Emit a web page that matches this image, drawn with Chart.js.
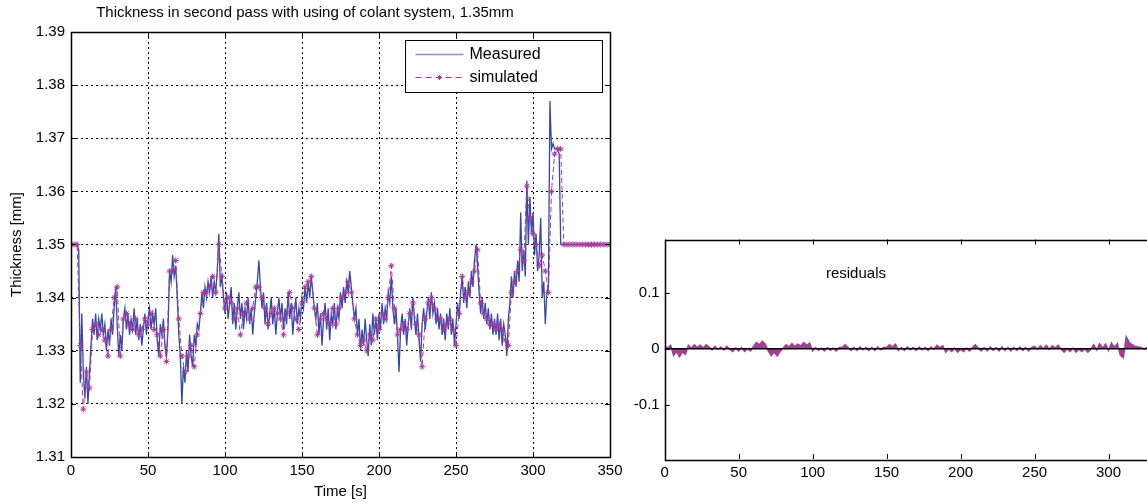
<!DOCTYPE HTML>
<html>

<head>
    <meta charset="UTF-8">
    <title>Thickness second pass</title>
    <script src="https://cdn.jsdelivr.net/npm/chart.js"></script>
    <style>
        html, body { margin: 0; padding: 0; background: #fff; overflow: hidden; width: 1147px; height: 503px; }
        canvas { position: absolute; top: 0; }
        #thick { left: 0; }
        #resid { left: 600px; }
    </style>
</head>

<body>
    <canvas id="thick" width="640" height="503"></canvas>
    <canvas id="resid" width="600" height="503"></canvas>
    <script>
        // sample spacing in seconds
        var measuredStep = 1;
        var simulatedStep = 2;
        var residualStep = 2;

        var xTicks = [0, 50, 100, 150, 200, 250, 300, 350];
        var yTicks = [1.31, 1.32, 1.33, 1.34, 1.35, 1.36, 1.37, 1.38, 1.39];
        var residTicks = [-0.1, 0, 0.1];

        // measured thickness [mm], one value per second from t = 0
        var measured = [
            1.350, 1.350, 1.350, 1.350, 1.350, 1.349, 1.324, 1.337, 1.326, 1.321,
            1.327, 1.320, 1.326, 1.331, 1.336, 1.333, 1.337, 1.332, 1.336, 1.334,
            1.337, 1.333, 1.335, 1.330, 1.334, 1.331, 1.336, 1.333, 1.338, 1.342,
            1.335, 1.329, 1.333, 1.330, 1.336, 1.338, 1.334, 1.337, 1.333, 1.336,
            1.334, 1.338, 1.333, 1.336, 1.332, 1.335, 1.331, 1.334, 1.337, 1.333,
            1.336, 1.338, 1.334, 1.337, 1.335, 1.338, 1.332, 1.329, 1.335, 1.333,
            1.336, 1.331, 1.329, 1.334, 1.345, 1.343, 1.348, 1.344, 1.346, 1.340,
            1.333, 1.329, 1.320, 1.327, 1.324, 1.330, 1.326, 1.333, 1.329, 1.327,
            1.333, 1.331, 1.335, 1.334, 1.337, 1.341, 1.338, 1.342, 1.340, 1.343,
            1.341, 1.344, 1.340, 1.343, 1.341, 1.345, 1.352, 1.342, 1.344, 1.340,
            1.337, 1.341, 1.336, 1.339, 1.342, 1.335, 1.339, 1.334, 1.338, 1.341,
            1.336, 1.339, 1.334, 1.338, 1.336, 1.340, 1.335, 1.338, 1.333, 1.337,
            1.340, 1.343, 1.347, 1.342, 1.338, 1.341, 1.335, 1.339, 1.334, 1.337,
            1.340, 1.335, 1.338, 1.333, 1.337, 1.340, 1.336, 1.339, 1.334, 1.338,
            1.335, 1.341, 1.336, 1.339, 1.333, 1.337, 1.340, 1.335, 1.338, 1.336,
            1.340, 1.338, 1.342, 1.339, 1.343, 1.340, 1.344, 1.341, 1.338, 1.336,
            1.339, 1.333, 1.337, 1.331, 1.336, 1.339, 1.334, 1.338, 1.332, 1.337,
            1.335, 1.339, 1.334, 1.338, 1.336, 1.341, 1.338, 1.342, 1.339, 1.343,
            1.341, 1.345, 1.342, 1.339, 1.336, 1.338, 1.333, 1.336, 1.330, 1.334,
            1.331, 1.336, 1.332, 1.329, 1.335, 1.331, 1.337, 1.333, 1.336, 1.332,
            1.337, 1.334, 1.339, 1.335, 1.338, 1.336, 1.341, 1.339, 1.344, 1.338,
            1.335, 1.338, 1.333, 1.326, 1.334, 1.337, 1.333, 1.336, 1.331, 1.335,
            1.338, 1.334, 1.340, 1.336, 1.333, 1.337, 1.332, 1.328, 1.335, 1.338,
            1.334, 1.337, 1.340, 1.336, 1.341, 1.337, 1.339, 1.335, 1.338, 1.334,
            1.337, 1.333, 1.336, 1.332, 1.337, 1.334, 1.338, 1.333, 1.336, 1.331,
            1.335, 1.339, 1.336, 1.341, 1.344, 1.339, 1.342, 1.338, 1.343, 1.340,
            1.345, 1.342, 1.347, 1.350, 1.346, 1.341, 1.337, 1.340, 1.336, 1.339,
            1.335, 1.338, 1.334, 1.337, 1.333, 1.336, 1.333, 1.337, 1.332, 1.336,
            1.331, 1.335, 1.333, 1.329, 1.336, 1.339, 1.344, 1.340, 1.345, 1.342,
            1.347, 1.343, 1.356, 1.345, 1.349, 1.344, 1.362, 1.350, 1.359, 1.352,
            1.356, 1.348, 1.352, 1.345, 1.348, 1.355, 1.340, 1.343, 1.335, 1.341,
            1.342, 1.377, 1.368, 1.369, 1.368, 1.368, 1.368, 1.367, 1.350, 1.350,
            1.350, 1.350, 1.350, 1.350, 1.350, 1.350, 1.350, 1.350, 1.350, 1.350,
            1.350, 1.350, 1.350, 1.350, 1.350, 1.350, 1.350, 1.350, 1.350, 1.350,
            1.350, 1.350, 1.350, 1.350, 1.350, 1.350, 1.350, 1.350, 1.350, 1.350,
            1.350
        ];

        // simulated thickness [mm], every 2 s from t = 0
        var simulated = [
            1.350, 1.350, 1.350, 1.331, 1.319, 1.326, 1.323, 1.334, 1.335, 1.333,
            1.334, 1.332, 1.329, 1.334, 1.340, 1.342, 1.329, 1.336, 1.337, 1.335,
            1.334, 1.336, 1.333, 1.334, 1.336, 1.335, 1.337, 1.334, 1.333, 1.329,
            1.334, 1.328, 1.345, 1.345, 1.347, 1.336, 1.329, 1.326, 1.329, 1.331,
            1.327, 1.333, 1.337, 1.341, 1.341, 1.342, 1.344, 1.341, 1.350, 1.344,
            1.338, 1.340, 1.339, 1.336, 1.338, 1.333, 1.337, 1.339, 1.336, 1.338,
            1.342, 1.342, 1.340, 1.338, 1.335, 1.337, 1.338, 1.337, 1.336, 1.333,
            1.337, 1.341, 1.338, 1.336, 1.334, 1.339, 1.342, 1.343, 1.344, 1.338,
            1.333, 1.336, 1.337, 1.336, 1.335, 1.338, 1.335, 1.338, 1.340, 1.341,
            1.343, 1.341, 1.336, 1.333, 1.331, 1.332, 1.330, 1.333, 1.332, 1.336,
            1.334, 1.337, 1.336, 1.340, 1.346, 1.338, 1.333, 1.334, 1.335, 1.334,
            1.337, 1.339, 1.335, 1.333, 1.327, 1.336, 1.339, 1.340, 1.338, 1.336,
            1.336, 1.334, 1.335, 1.336, 1.334, 1.331, 1.337, 1.344, 1.340, 1.341,
            1.343, 1.345, 1.349, 1.339, 1.337, 1.336, 1.335, 1.335, 1.334, 1.335,
            1.334, 1.332, 1.331, 1.341, 1.343, 1.345, 1.349, 1.347, 1.361, 1.355,
            1.352, 1.350, 1.346, 1.348, 1.345, 1.341, 1.360, 1.367, 1.368, 1.368,
            1.350, 1.350, 1.350, 1.350, 1.350, 1.350, 1.350, 1.350, 1.350, 1.350,
            1.350, 1.350, 1.350, 1.350, 1.350, 1.350
        ];

        // residuals, every 2 s from t = 0
        var residuals = [
            0.004, 0.001, 0.006,
            -0.012, -0.005, -0.014, -0.006, -0.010,
            0.006, 0.001, 0.007, 0.002, 0.006, 0.001, 0.007, 0.003,
            -0.002, 0.004, -0.001, 0.003, -0.002, 0.004, -0.001,
            -0.005, 0.001, -0.004, 0.002, -0.005, 0.000, -0.004,
            0.004, 0.011, 0.007, 0.013, 0.008,
            -0.004, -0.012, -0.006, -0.013, -0.005,
            0.001, 0.007, 0.003, 0.009, 0.004, 0.008, 0.005, 0.011, 0.006, 0.010,
            -0.004, 0.002, -0.003, 0.001, -0.004, 0.002, -0.003, 0.001, -0.004, 0.002,
            0.002, 0.007, 0.002,
            -0.003, 0.002, -0.003, 0.003, -0.002, 0.002, -0.003, 0.002, -0.003, 0.003, -0.002, 0.002,
            0.002, 0.007, 0.003, 0.008,
            -0.003, 0.002, -0.003, 0.003, -0.002, 0.002, -0.003, 0.003, -0.002, 0.002, -0.003, 0.003, -0.001,
            0.006, 0.002, 0.005,
            -0.006, 0.000, -0.005, 0.001, -0.006, -0.001, -0.005, 0.001, -0.004, 0.002,
            0.007, 0.001,
            -0.004, 0.002, -0.004, 0.003, -0.003, 0.002, -0.004, 0.003, -0.003, 0.002, -0.004, 0.002, -0.003, 0.003, -0.003, 0.002, -0.004, 0.002,
            0.004, -0.001, 0.005, 0.000, 0.006, -0.001, 0.005, 0.001, 0.006, -0.001,
            -0.006, 0.000, -0.005, 0.001, -0.006, -0.001, -0.005, 0.000, -0.006, -0.001,
            0.007, -0.002, 0.009, 0.001, 0.008, -0.003, 0.010, 0.002, 0.009,
            -0.012, -0.016,
            0.021, 0.011, 0.007, 0.004,
            0.003, 0.002, -0.001, 0.002, -0.001, 0.002, -0.001, 0.001, 0.000, 0.000, 0.000, 0.000, 0.000, 0.000, 0.000, 0.000
        ];

        var measuredColor = '#3249a8';
        var legendMeasuredColor = '#8293cc';
        var simulatedColor = '#a8379e';
        var residColor = '#a23d98';

        function toPoints(values, step) {
            return values.map(function (v, i) { return { x: i * step, y: v }; });
        }

        Chart.defaults.font.family = "'Liberation Sans', Arial, sans-serif";
        Chart.defaults.color = '#000';
        Chart.defaults.animation = false;

        // MATLAB style axes: full box and inward ticks
        var boxPlugin = {
            id: 'boxPlugin',
            afterDatasetsDraw: function (chart) {
                var ctx = chart.ctx, a = chart.chartArea;
                var xs = chart.scales.x, ys = chart.scales.y;
                ctx.save();
                ctx.strokeStyle = '#000';
                ctx.lineWidth = 1;
                ctx.beginPath();
                xs.ticks.forEach(function (t) {
                    var px = Math.round(xs.getPixelForValue(t.value)) + 0.5;
                    ctx.moveTo(px, a.bottom); ctx.lineTo(px, a.bottom - 5);
                    ctx.moveTo(px, a.top); ctx.lineTo(px, a.top + 5);
                });
                ys.ticks.forEach(function (t) {
                    var py = Math.round(ys.getPixelForValue(t.value)) + 0.5;
                    ctx.moveTo(a.left, py); ctx.lineTo(a.left + 5, py);
                    ctx.moveTo(a.right, py); ctx.lineTo(a.right - 5, py);
                });
                ctx.stroke();
                ctx.lineWidth = 1.5;
                ctx.strokeRect(Math.round(a.left) + 0.5, Math.round(a.top) + 0.5,
                    Math.round(a.right - a.left), Math.round(a.bottom - a.top));
                ctx.restore();
            }
        };

        function drawStar(ctx, x, y, r) {
            ctx.beginPath();
            ctx.moveTo(x - r, y); ctx.lineTo(x + r, y);
            ctx.moveTo(x, y - r); ctx.lineTo(x, y + r);
            var d = r * 0.7;
            ctx.moveTo(x - d, y - d); ctx.lineTo(x + d, y + d);
            ctx.moveTo(x - d, y + d); ctx.lineTo(x + d, y - d);
            ctx.stroke();
        }

        var legendBox = {
            id: 'legendBox',
            afterDraw: function (chart) {
                var ctx = chart.ctx, a = chart.chartArea;
                var w = 197, h = 52;
                var left = Math.round(a.right - 8 - w) + 0.5, top = Math.round(a.top + 8) + 0.5;
                ctx.save();
                ctx.fillStyle = '#fff';
                ctx.fillRect(left, top, w, h);
                ctx.strokeStyle = '#000';
                ctx.lineWidth = 1;
                ctx.strokeRect(left, top, w, h);
                var y1 = top + 14, y2 = top + 37;
                ctx.strokeStyle = legendMeasuredColor;
                ctx.lineWidth = 1.5;
                ctx.beginPath(); ctx.moveTo(left + 10, y1); ctx.lineTo(left + 58, y1); ctx.stroke();
                ctx.strokeStyle = simulatedColor;
                ctx.lineWidth = 1;
                ctx.setLineDash([6, 4]);
                ctx.beginPath(); ctx.moveTo(left + 10, y2); ctx.lineTo(left + 58, y2); ctx.stroke();
                ctx.setLineDash([]);
                drawStar(ctx, left + 34, y2, 2.5);
                ctx.fillStyle = '#000';
                ctx.font = "16px 'Liberation Sans', Arial, sans-serif";
                ctx.textBaseline = 'middle';
                ctx.fillText('Measured', left + 64, y1);
                ctx.fillText('simulated', left + 64, y2);
                ctx.restore();
            }
        };

        var residLabel = {
            id: 'residLabel',
            afterDraw: function (chart) {
                var ctx = chart.ctx;
                ctx.save();
                ctx.fillStyle = '#000';
                ctx.font = "15px 'Liberation Sans', Arial, sans-serif";
                ctx.textBaseline = 'middle';
                ctx.fillText('residuals', chart.scales.x.getPixelForValue(109), chart.scales.y.getPixelForValue(0.133));
                ctx.restore();
            }
        };

        var thickChart = new Chart(document.getElementById('thick').getContext('2d'), {
            type: 'line',
            data: {
                datasets: [{
                    label: 'simulated',
                    data: toPoints(simulated, simulatedStep),
                    borderColor: simulatedColor,
                    borderWidth: 1,
                    borderDash: [5, 3],
                    pointStyle: 'star',
                    pointRadius: 3,
                    pointBorderColor: simulatedColor,
                    pointBorderWidth: 1,
                    tension: 0,
                    order: 0
                }, {
                    label: 'Measured',
                    data: toPoints(measured, measuredStep),
                    borderColor: measuredColor,
                    borderWidth: 1.3,
                    pointRadius: 0,
                    tension: 0,
                    order: 1
                }]
            },
            options: {
                responsive: false,
                layout: { padding: { left: 0, right: 30, top: 0, bottom: 0 } },
                plugins: {
                    legend: { display: false },
                    tooltip: { enabled: false },
                    title: {
                        display: true,
                        text: 'Thickness in second pass with using of colant system, 1.35mm',
                        font: { size: 15, weight: 'normal' },
                        color: '#000',
                        padding: { top: 4, bottom: 10 }
                    }
                },
                scales: {
                    x: {
                        type: 'linear', min: 0, max: 350,
                        afterBuildTicks: function (s) { s.ticks = xTicks.map(function (v) { return { value: v }; }); },
                        afterFit: function (s) { s.height = 46; },
                        ticks: { font: { size: 15 }, padding: 5, maxRotation: 0 },
                        grid: { color: '#000', lineWidth: 1, drawTicks: false },
                        border: { display: false, dash: [2, 3] },
                        title: { display: true, text: 'Time [s]', font: { size: 15 }, padding: { top: 0, bottom: 2 } }
                    },
                    y: {
                        min: 1.31, max: 1.39,
                        afterBuildTicks: function (s) { s.ticks = yTicks.map(function (v) { return { value: v }; }); },
                        afterFit: function (s) { s.width = 71; },
                        ticks: { font: { size: 15 }, padding: 6, callback: function (v) { return v.toFixed(2); } },
                        grid: { color: '#000', lineWidth: 1, drawTicks: false },
                        border: { display: false, dash: [2, 3] },
                        title: { display: true, text: 'Thickness [mm]', font: { size: 15 }, padding: { top: 8, bottom: 0 } }
                    }
                }
            },
            plugins: [boxPlugin, legendBox]
        });

        var residChart = new Chart(document.getElementById('resid').getContext('2d'), {
            type: 'line',
            data: {
                datasets: [{
                    label: 'zero',
                    data: [{ x: 0, y: 0 }, { x: 350, y: 0 }],
                    borderColor: '#000',
                    borderWidth: 1.5,
                    pointRadius: 0,
                    order: 0
                }, {
                    label: 'residuals',
                    data: toPoints(residuals, residualStep),
                    borderColor: residColor,
                    backgroundColor: residColor,
                    borderWidth: 1.5,
                    fill: 'origin',
                    pointRadius: 0,
                    tension: 0,
                    order: 1
                }]
            },
            options: {
                responsive: false,
                layout: { padding: { left: 0, right: 3, top: 239.5, bottom: 0 } },
                plugins: { legend: { display: false }, tooltip: { enabled: false } },
                scales: {
                    x: {
                        type: 'linear', min: 0, max: 350,
                        afterBuildTicks: function (s) { s.ticks = xTicks.map(function (v) { return { value: v }; }); },
                        afterFit: function (s) { s.height = 44; },
                        ticks: { font: { size: 15 }, padding: 5, maxRotation: 0 },
                        grid: { display: false, drawTicks: false },
                        border: { display: false }
                    },
                    y: {
                        min: -0.197, max: 0.195,
                        afterBuildTicks: function (s) { s.ticks = residTicks.map(function (v) { return { value: v }; }); },
                        afterFit: function (s) { s.width = 64.7; },
                        ticks: { font: { size: 15 }, padding: 5, callback: function (v) { return v === 0 ? '0' : String(v); } },
                        grid: { display: false, drawTicks: false },
                        border: { display: false }
                    }
                }
            },
            plugins: [boxPlugin, residLabel]
        });
    </script>
</body>

</html>
